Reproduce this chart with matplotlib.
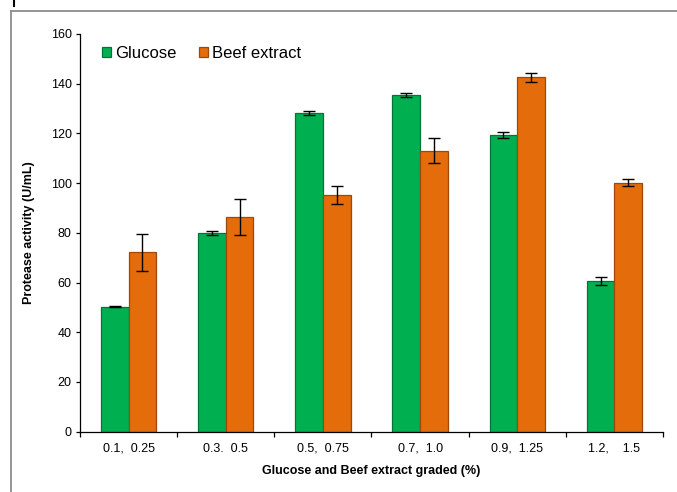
import matplotlib
matplotlib.use("Agg")
import matplotlib.pyplot as plt
from matplotlib.lines import Line2D
import numpy as np

categories = ["0.1,  0.25", "0.3.  0.5", "0.5,  0.75", "0.7,  1.0", "0.9,  1.25", "1.2,    1.5"]
glucose = [50.3, 80.1, 128.3, 135.4, 119.3, 60.8]
glucose_err = [0.3, 0.8, 0.8, 0.9, 1.2, 1.6]
beef = [72.2, 86.4, 95.2, 113.0, 142.5, 100.1]
beef_err = [7.5, 7.3, 3.5, 5.0, 2.0, 1.4]
yticks = [0, 20, 40, 60, 80, 100, 120, 140, 160]

plt.rcParams['font.family'] = ['Liberation Sans', 'DejaVu Sans']

fig = plt.figure(figsize=(6.77, 4.92), dpi=100)
ax = fig.add_axes([80/677, 1-431.7/492, 583/677, (431.7-34)/492])

x = np.arange(len(categories))
w = 0.285
green = "#00B050"
orange = "#E46C0A"
ax.bar(x - w/2, glucose, w, color=green, edgecolor="#00743A", linewidth=0.9, label="Glucose", zorder=2)
ax.bar(x + w/2, beef, w, color=orange, edgecolor="#A0480A", linewidth=0.9, label="Beef extract", zorder=2)
ax.errorbar(x - w/2, glucose, yerr=glucose_err, fmt='none', ecolor='black', elinewidth=1, capsize=4, capthick=1, zorder=3)
ax.errorbar(x + w/2, beef, yerr=beef_err, fmt='none', ecolor='black', elinewidth=1, capsize=4, capthick=1, zorder=3)

ax.set_xlim(-0.5, len(categories) - 0.5)
ax.set_ylim(0, 160)
ax.set_yticks(yticks)
ax.tick_params(axis='y', direction='out', length=3, width=0.9, labelsize=9, pad=3)
ax.set_xticks(np.arange(-0.5, len(categories), 1.0))
ax.set_xticklabels([])
ax.tick_params(axis='x', which='major', direction='out', length=3.5, width=0.9)
ax.set_xticks(x, minor=True)
ax.set_xticklabels(categories, minor=True, fontsize=9)
ax.tick_params(axis='x', which='minor', length=0, pad=8)

for s in ['top', 'right']:
    ax.spines[s].set_visible(False)
for s in ['left', 'bottom']:
    ax.spines[s].set_linewidth(0.9)

ax.set_ylabel("Protease activity (U/mL)", fontsize=9, fontweight='bold', labelpad=11)
ax.set_xlabel("Glucose and Beef extract graded (%)", fontsize=9, fontweight='bold', labelpad=7)

ax.legend(loc='center left', bbox_to_anchor=(0.038, 0.952), frameon=False, ncol=2,
          fontsize=12, handlelength=0.55, handleheight=0.55, handletextpad=0.25,
          columnspacing=1.3, borderaxespad=0, borderpad=0)

# chart area frame fragments
fig.add_artist(Line2D([10.5/677, 1.0], [1-10.5/492, 1-10.5/492], color="#8c8c8c", linewidth=1.3))
fig.add_artist(Line2D([10.5/677, 10.5/677], [0, 1-10.5/492], color="#8c8c8c", linewidth=1.3))
fig.add_artist(Line2D([14/677, 14/677], [1-6/492, 1.0], color="black", linewidth=1.5))

fig.savefig("out.png", dpi=100)
